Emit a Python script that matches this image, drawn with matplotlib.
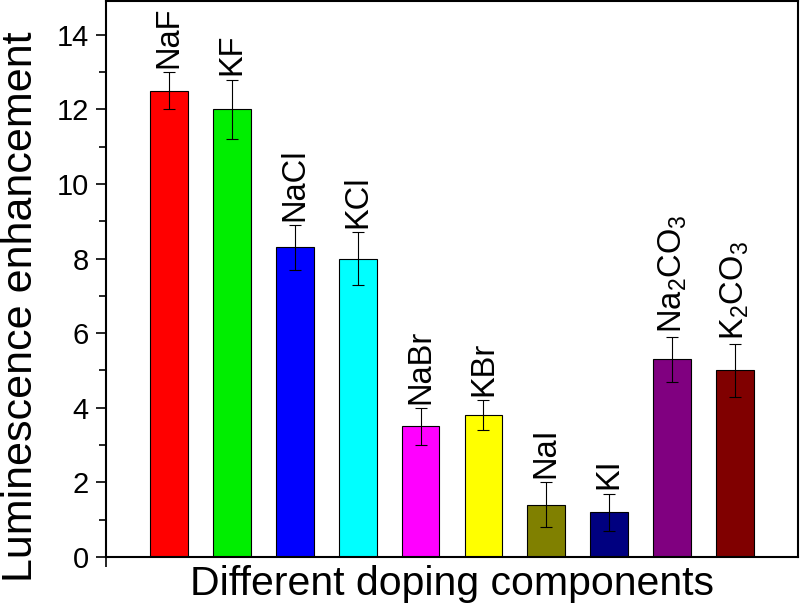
import matplotlib
matplotlib.use("Agg")
import matplotlib.pyplot as plt
from matplotlib.ticker import MultipleLocator

plt.rcParams['font.family'] = ['Liberation Sans', 'DejaVu Sans']
plt.rcParams['mathtext.fontset'] = 'custom'
plt.rcParams['mathtext.rm'] = 'Liberation Sans'

labels = ["NaF", "KF", "NaCl", "KCl", "NaBr", "KBr", "NaI", "KI",
          r"Na$_\mathregular{2}$CO$_\mathregular{3}$", r"K$_\mathregular{2}$CO$_\mathregular{3}$"]
values = [12.5, 12.0, 8.3, 8.0, 3.5, 3.8, 1.4, 1.2, 5.3, 5.0]
errors = [0.5, 0.8, 0.6, 0.7, 0.5, 0.4, 0.6, 0.5, 0.6, 0.7]
colors = ["#FF0000", "#00EE00", "#0000FF", "#00FFFF", "#FF00FF",
          "#FFFF00", "#808000", "#000080", "#800080", "#800000"]

fig = plt.figure(figsize=(8, 6.11), dpi=100)
ax = fig.add_axes([0.1325, 0.0884, 0.865, 0.9096])

x = list(range(1, len(values) + 1))
ax.bar(x, values, width=0.6, color=colors, edgecolor='black', linewidth=0.8,
       yerr=errors, error_kw=dict(ecolor='black', elinewidth=0.8, capsize=4.5, capthick=0.8))

for xi, v, e, lab in zip(x, values, errors, labels):
    ax.annotate(lab, (xi, v + e), xytext=(0, 3), textcoords='offset points',
                rotation=90, ha='center', va='bottom', fontsize=23.5)

ax.set_xlim(0, 11)
ax.set_ylim(0, 14.9)
ax.yaxis.set_major_locator(MultipleLocator(2))
ax.yaxis.set_minor_locator(MultipleLocator(1))
ax.set_xticks([0])
ax.set_xticklabels([''])
ax.tick_params(axis='x', which='major', length=7.5, width=1.2, direction='out', pad=0)
ax.tick_params(axis='y', which='major', length=7.5, width=1.2, labelsize=21, direction='out', pad=5)
ax.tick_params(axis='y', which='minor', length=5, width=1.2, direction='out')
for s in ax.spines.values():
    s.set_linewidth(1.5)

ax.set_ylabel("Luminescence enhancement", fontsize=31)
ax.yaxis.set_label_coords(-0.094, 0.45)
ax.set_xlabel("Different doping components", fontsize=29.5)
ax.xaxis.set_label_coords(0.5, -0.015)
ax.xaxis.label.set_va('top')

fig.savefig("out.png", dpi=100)
